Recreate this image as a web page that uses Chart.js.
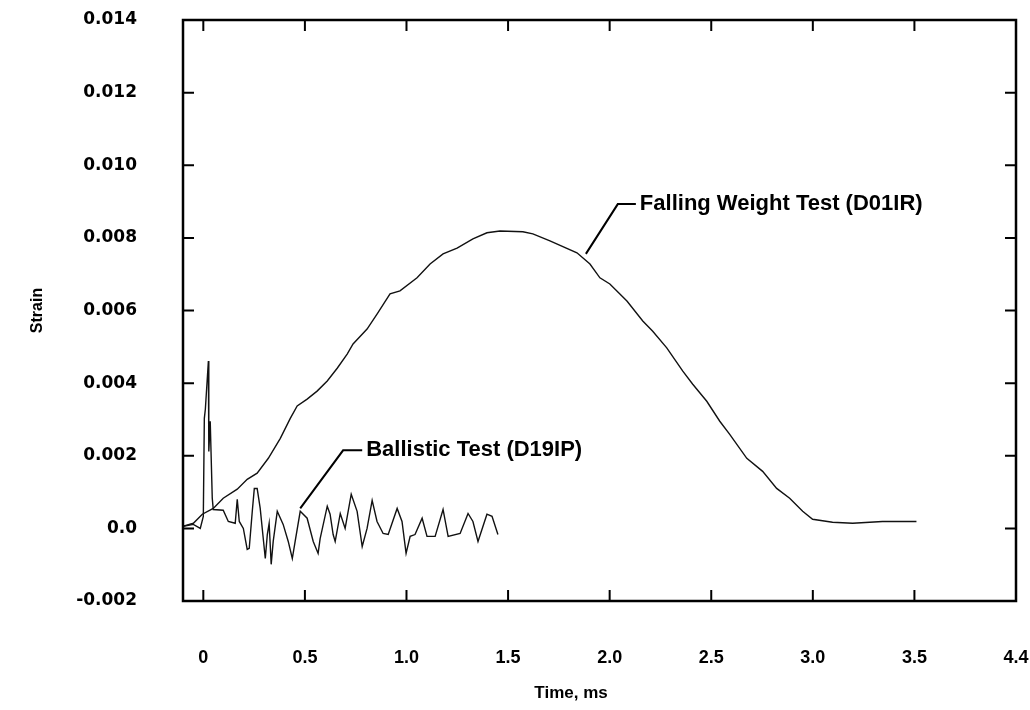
<!DOCTYPE html>
<html>
<head>
<meta charset="utf-8">
<script src="https://cdn.jsdelivr.net/npm/chart.js@4"></script>
<style>
  html, body { margin: 0; padding: 0; background: #fff; }
  #wrap { width: 1030px; height: 710px; }
</style>
</head>
<body>
<div id="wrap"><canvas id="chart" width="1030" height="710"></canvas></div>
<script>
// data (time in ms, strain)
const fallingTime = [-0.098, -0.049, -0.005, 0.049, 0.098, 0.167, 0.216, 0.265, 0.320, 0.379, 0.428, 0.462, 0.511, 0.560, 0.610, 0.659, 0.708, 0.737, 0.806, 0.855, 0.919, 0.968, 1.052, 1.116, 1.180, 1.249, 1.327, 1.396, 1.460, 1.573, 1.622, 1.706, 1.839, 1.903, 1.952, 2.001, 2.085, 2.163, 2.212, 2.281, 2.360, 2.409, 2.478, 2.542, 2.591, 2.675, 2.753, 2.822, 2.886, 2.950, 2.999, 3.097, 3.196, 3.343, 3.510];
const fallingStrain = [0.00006, 0.00014, 0.00039, 0.00055, 0.00083, 0.00108, 0.00135, 0.00152, 0.00193, 0.00248, 0.00303, 0.00337, 0.00356, 0.00378, 0.00406, 0.00441, 0.00480, 0.00508, 0.00549, 0.00590, 0.00646, 0.00654, 0.00690, 0.00728, 0.00756, 0.00772, 0.00797, 0.00814, 0.00819, 0.00817, 0.00811, 0.00792, 0.00759, 0.00728, 0.00690, 0.00673, 0.00626, 0.00571, 0.00543, 0.00497, 0.00433, 0.00397, 0.00350, 0.00295, 0.00259, 0.00193, 0.00157, 0.00110, 0.00083, 0.00047, 0.00025, 0.00017, 0.00014, 0.00019, 0.00019];

const ballisticTime = [-0.098, -0.049, -0.015, 0.000, 0.005, 0.010, 0.025, 0.027, 0.034, 0.044, 0.049, 0.098, 0.123, 0.157, 0.167, 0.177, 0.197, 0.216, 0.226, 0.241, 0.251, 0.265, 0.280, 0.295, 0.305, 0.315, 0.324, 0.334, 0.344, 0.364, 0.393, 0.418, 0.438, 0.452, 0.477, 0.511, 0.541, 0.565, 0.575, 0.610, 0.624, 0.639, 0.649, 0.674, 0.698, 0.728, 0.757, 0.782, 0.806, 0.831, 0.855, 0.885, 0.910, 0.954, 0.978, 0.998, 1.018, 1.042, 1.077, 1.101, 1.141, 1.180, 1.205, 1.264, 1.303, 1.327, 1.352, 1.396, 1.421, 1.450];
const ballisticStrain = [0.00006, 0.00011, 0.00000, 0.00033, 0.00303, 0.00328, 0.00461, 0.00212, 0.00295, 0.00083, 0.00052, 0.00050, 0.00019, 0.00014, 0.00080, 0.00019, 0.00000, -0.00058, -0.00055, 0.00047, 0.00110, 0.00110, 0.00055, -0.00028, -0.00083, -0.00017, 0.00014, -0.00099, -0.00036, 0.00047, 0.00011, -0.00036, -0.00083, -0.00036, 0.00047, 0.00028, -0.00036, -0.00069, -0.00028, 0.00061, 0.00039, -0.00017, -0.00036, 0.00041, 0.00000, 0.00094, 0.00047, -0.00050, 0.00000, 0.00077, 0.00019, -0.00014, -0.00017, 0.00055, 0.00019, -0.00069, -0.00022, -0.00017, 0.00028, -0.00022, -0.00022, 0.00052, -0.00022, -0.00014, 0.00041, 0.00019, -0.00036, 0.00039, 0.00033, -0.00017];

const xTicks = [0, 0.5, 1.0, 1.5, 2.0, 2.5, 3.0, 3.5, 4.0];
const xTickLabels = ['0', '0.5', '1.0', '1.5', '2.0', '2.5', '3.0', '3.5', '4.4'];
const yTicks = [-0.002, 0, 0.002, 0.004, 0.006, 0.008, 0.010, 0.012, 0.014];
const yTickLabels = ['-0.002', '0.0', '0.002', '0.004', '0.006', '0.008', '0.010', '0.012', '0.014'];

const xTitle = 'Time, ms';
const xTitleAt = 1.81; // sits a little left of the plot centre in the original

// callouts: [text, leader start, elbow, leader end] in data units
const callouts = [
  { text: 'Falling Weight Test (D01IR)', from: [1.883, 0.00756], elbow: [2.040, 0.00893], to: [2.129, 0.00893] },
  { text: 'Ballistic Test (D19IP)', from: [0.477, 0.00055], elbow: [0.688, 0.00215], to: [0.782, 0.00215] }
];

const toXY = (xs, ys) => xs.map((x, i) => ({ x: x, y: ys[i] }));

// frame, inward ticks, x title and callouts
const framePlugin = {
  id: 'frame',
  afterDraw(chart) {
    const ctx = chart.ctx;
    const a = chart.chartArea;
    const xs = chart.scales.x, ys = chart.scales.y;
    ctx.save();
    ctx.strokeStyle = '#000';
    ctx.lineWidth = 2.5;
    ctx.strokeRect(a.left, a.top, a.right - a.left, a.bottom - a.top);
    ctx.lineWidth = 2;
    ctx.beginPath();
    xTicks.forEach(v => {
      const px = xs.getPixelForValue(v);
      if (px <= a.left + 2 || px >= a.right - 2) return;
      ctx.moveTo(px, a.bottom); ctx.lineTo(px, a.bottom - 11);
      ctx.moveTo(px, a.top); ctx.lineTo(px, a.top + 11);
    });
    yTicks.forEach(v => {
      const py = ys.getPixelForValue(v);
      if (py <= a.top + 2 || py >= a.bottom - 2) return;
      ctx.moveTo(a.left, py); ctx.lineTo(a.left + 11, py);
      ctx.moveTo(a.right, py); ctx.lineTo(a.right - 11, py);
    });
    ctx.stroke();

    ctx.fillStyle = '#000';
    ctx.textBaseline = 'middle';
    ctx.textAlign = 'center';
    ctx.font = 'bold 17px "Liberation Sans", Arial, sans-serif';
    ctx.fillText(xTitle, xs.getPixelForValue(xTitleAt), xs.bottom - 17);

    ctx.lineWidth = 2;
    ctx.font = 'bold 22px "Liberation Sans", Arial, sans-serif';
    ctx.textAlign = 'left';
    callouts.forEach(c => {
      ctx.beginPath();
      ctx.moveTo(xs.getPixelForValue(c.from[0]), ys.getPixelForValue(c.from[1]));
      ctx.lineTo(xs.getPixelForValue(c.elbow[0]), ys.getPixelForValue(c.elbow[1]));
      ctx.lineTo(xs.getPixelForValue(c.to[0]), ys.getPixelForValue(c.to[1]));
      ctx.stroke();
      ctx.fillText(c.text, xs.getPixelForValue(c.to[0]) + 4, ys.getPixelForValue(c.to[1]));
    });
    ctx.restore();
  }
};

new Chart(document.getElementById('chart'), {
  type: 'line',
  data: {
    datasets: [
      {
        label: 'Falling Weight Test (D01IR)',
        data: toXY(fallingTime, fallingStrain),
        borderColor: '#111',
        borderWidth: 1.4,
        pointRadius: 0,
        tension: 0,
        fill: false
      },
      {
        label: 'Ballistic Test (D19IP)',
        data: toXY(ballisticTime, ballisticStrain),
        borderColor: '#111',
        borderWidth: 1.4,
        pointRadius: 0,
        tension: 0,
        fill: false
      }
    ]
  },
  options: {
    responsive: false,
    devicePixelRatio: 1,
    animation: false,
    layout: { padding: { top: 20, right: 14, left: 0, bottom: 0 } },
    plugins: {
      legend: { display: false },
      tooltip: { enabled: false }
    },
    scales: {
      x: {
        type: 'linear',
        min: -0.1,
        max: 4.0,
        afterBuildTicks: s => { s.ticks = xTicks.map(v => ({ value: v })); },
        afterFit: s => { s.height = 109; s.paddingLeft = 0; s.paddingRight = 0; },
        grid: { display: false, drawTicks: false },
        border: { display: false },
        ticks: {
          autoSkip: false,
          maxRotation: 0,
          padding: 46,
          color: '#000',
          font: { family: '"Liberation Sans", Arial, sans-serif', size: 18, weight: 'bold' },
          callback: (v, i) => xTickLabels[i]
        }
      },
      y: {
        min: -0.002,
        max: 0.014,
        afterBuildTicks: s => { s.ticks = yTicks.map(v => ({ value: v })); },
        afterFit: s => { s.width = 183; s.paddingTop = 0; s.paddingBottom = 0; },
        grid: { display: false, drawTicks: false },
        border: { display: false },
        ticks: {
          autoSkip: false,
          padding: 46,
          color: '#000',
          font: { family: '"DejaVu Sans", sans-serif', size: 17, weight: 'bold' },
          callback: (v, i) => yTickLabels[i]
        },
        title: {
          display: true,
          text: 'Strain',
          color: '#000',
          padding: { top: 28 },
          font: { family: '"Liberation Sans", Arial, sans-serif', size: 16, weight: 'bold' }
        }
      }
    }
  },
  plugins: [framePlugin]
});
</script>
</body>
</html>
